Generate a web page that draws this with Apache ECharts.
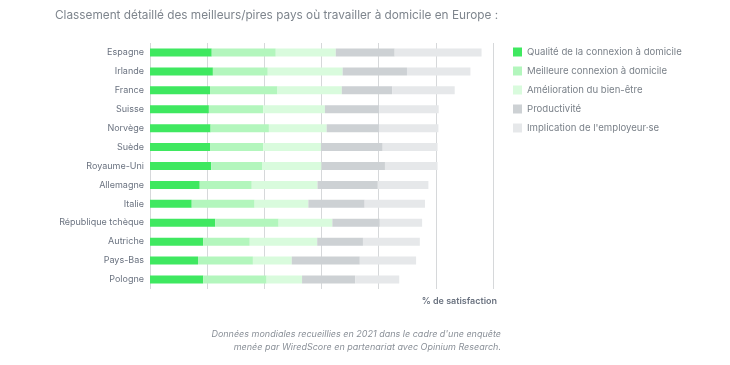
<!DOCTYPE html>
<html><head><meta charset="utf-8">
<script src="https://cdn.jsdelivr.net/npm/echarts@6/dist/echarts.min.js"></script>
<style>html,body{margin:0;padding:0;background:#fff;}#c{width:730px;height:365px;}</style>
</head><body><div id="c"></div>
<script>
const countries = ["Espagne","Irlande","France","Suisse","Norvège","Suède","Royaume-Uni","Allemagne","Italie","République tchèque","Autriche","Pays-Bas","Pologne"];
const seriesNames = ["Qualité de la connexion à domicile","Meilleure connexion à domicile","Amélioration du bien-être","Productivité","Implication de l'employeur·se"];
const qualite      = [10.8, 11.0, 10.5, 10.3, 10.6, 10.5, 10.7, 8.7, 7.3, 11.4, 9.3, 8.4, 9.3];
const meilleure    = [11.2, 9.6, 11.8, 9.5, 10.2, 9.3, 8.9, 9.1, 11.0, 11.1, 8.15, 9.6, 11.1];
const bienEtre     = [10.5, 13.1, 11.25, 10.8, 10.1, 10.1, 10.4, 11.5, 9.4, 9.4, 11.8, 6.8, 6.2];
const productivite = [10.3, 11.25, 8.8, 9.5, 9.15, 10.8, 11.1, 10.55, 9.85, 8.3, 8.0, 11.9, 9.3];
const implication  = [15.2, 11.1, 10.95, 10.4, 10.4, 9.6, 9.2, 8.85, 10.55, 7.4, 9.95, 9.85, 7.7];
const footerLines = ["Données mondiales recueillies en 2021 dans le cadre d'une enquête","menée par WiredScore en partenariat avec Opinium Research."];
const colors = ["#3fe860","#b3f6bd","#d9fbdd","#cdd1d4","#e6e8ea"];
const font = "Inter, 'Noto Sans', sans-serif";
const values = [qualite, meilleure, bienEtre, productivite, implication];
const chart = echarts.init(document.getElementById('c'), null, {renderer:'canvas'});
chart.setOption({
  animation:false,
  backgroundColor:'#fff',
  title:{text:'Classement détaillé des meilleurs/pires pays où travailler à domicile en Europe :',left:55,top:9,padding:0,
    textStyle:{fontFamily:font,fontSize:11.8,fontWeight:'normal',color:'#7e858d'}},
  legend:{orient:'vertical',left:513,top:47,padding:0,itemWidth:9,itemHeight:9,itemGap:9,icon:'rect',
    textStyle:{fontFamily:font,fontSize:9.6,color:'#7a8189',lineHeight:9},data:seriesNames},
  grid:{left:150,right:237,top:43,bottom:76},
  xAxis:{type:'value',min:0,max:60,interval:10,axisLabel:{show:false},axisLine:{show:false},axisTick:{show:false},
    splitLine:{lineStyle:{color:'#d6d8da',width:1}}},
  yAxis:{type:'category',inverse:true,data:countries,axisLine:{show:false},axisTick:{show:false},
    axisLabel:{fontFamily:font,fontSize:9,color:'#6b7380',margin:6}},
  graphic:[
    {type:'text',right:233,top:297,style:{text:'% de satisfaction',font:'600 9px '+font,fill:'#6b7380'}},
    {type:'text',right:229,top:330,style:{text:footerLines[0],font:'italic 9px '+font,fill:'#8a9098'}},
    {type:'text',right:229,top:343,style:{text:footerLines[1],font:'italic 9px '+font,fill:'#8a9098'}}
  ],
  series: seriesNames.map((n,i)=>({name:n,type:'bar',stack:'s',barWidth:8,data:values[i],itemStyle:{color:colors[i]}}))
});
</script></body></html>
